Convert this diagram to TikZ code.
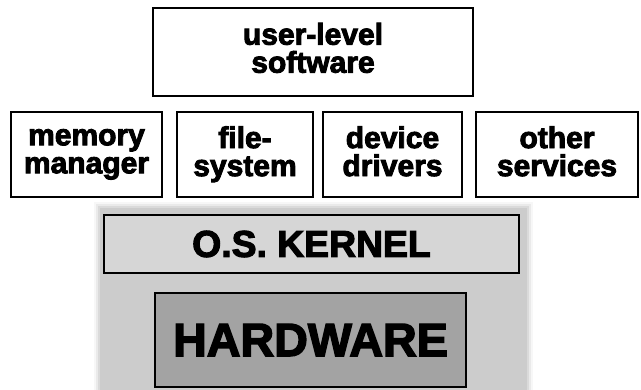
\documentclass[tikz,border=0pt]{standalone}
\usepackage{fontspec}
\newfontfamily\heavy{Liberation Sans Bold}[FakeBold=3]
\usetikzlibrary{positioning}
\definecolor{bggray}{gray}{0.80}
\definecolor{kernelgray}{gray}{0.84}
\definecolor{hwgray}{gray}{0.64}
\tikzset{
  layerbox/.style={draw=black, line width=2.2pt, fill=white, align=center,
    inner sep=0pt, font=\heavy\fontsize{22.5}{21}\selectfont},
  twoline/.style={execute at begin node=\strut, execute at end node=\strut},
  % taller top strut and shallower bottom strut sit the text a little lower
  service/.style={layerbox, minimum height=63.75pt,
    execute at begin node={\rule{0pt}{22pt}},
    execute at end node={\rule[-5pt]{0pt}{5pt}}},
}
\begin{document}
\begin{tikzpicture}[x=0.75pt, y=-0.75pt]
\useasboundingbox (0,0) rectangle (641,389);
\fill[white] (0,0) rectangle (641,389);

% soft-edged grey panel behind the kernel layers
\foreach \d/\o in {6/0.15,4/0.3,2/0.5,0/1}{
  \fill[bggray, opacity=\o] (100-\d,208-\d) rectangle (527+\d,395);
}

% user level
\node[layerbox, twoline, minimum width=240pt, minimum height=66pt] (user) at (313,52)
  {user-level\\software};

% system services
\node[service, minimum width=113.25pt] (mem) at (86.5,154.5) {memory\\manager};
\node[service, minimum width=102pt] (fs) at (245,154.5) {file-\\system};
\node[service, minimum width=104.25pt] (dev) at (392.5,154.5) {device\\drivers};
\node[service, minimum width=121.5pt] (other) at (557,154.5) {other\\services};

% kernel and hardware
\node[layerbox, fill=kernelgray, minimum width=311.25pt, minimum height=43.5pt,
  font=\heavy\fontsize{28}{28}\selectfont] (kernel) at (311.5,244) {O.S. KERNEL};
\node[layerbox, fill=hwgray, minimum width=233.25pt, minimum height=70.5pt,
  font=\heavy\fontsize{35}{35}\selectfont] (hw) at (310.5,340) {HARDWARE};
\end{tikzpicture}
\end{document}
